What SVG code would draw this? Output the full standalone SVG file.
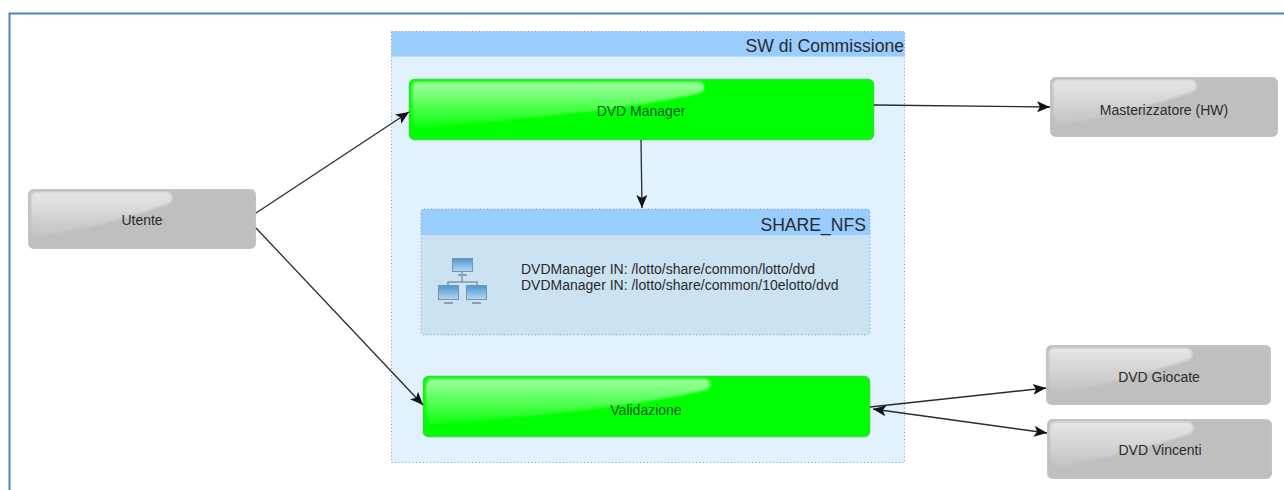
<svg xmlns="http://www.w3.org/2000/svg" width="1284" height="490" viewBox="0 0 1284 490">
<style>
text{font-family:"Liberation Sans",Arial,sans-serif;fill:#2a2a2a}
.lbl{font-size:14px;text-anchor:middle}
.ongreen{fill:#0f5a1f}
.path{font-size:14px}
.conn{fill:none;stroke:#2a2a2a;stroke-width:1.3;marker-end:url(#arr)}
.grey{fill:#bfbfbf;stroke:#c4c4c4;stroke-width:1}
.green{fill:#00ff00;stroke:#2fe02f;stroke-width:1.5}
.gl{fill:url(#gloss);filter:url(#soft)}
.dash{fill:none;stroke:#8a98a5;stroke-width:1;stroke-dasharray:1 2.5}
.hd{fill:#99ccff}
.ttl{font-size:17.600px;text-anchor:end}
.mon{fill:url(#screen);stroke:#7a94ad;stroke-width:1}
.foot{stroke:#8aa0b2;stroke-width:2}
</style>
<defs>
<marker id="arr" markerUnits="userSpaceOnUse" markerWidth="14" markerHeight="12" refX="13" refY="6" orient="auto"><path d="M0 0.500L13 6L0 11.500L3 6Z" fill="#111"/></marker>
<marker id="arrs" markerUnits="userSpaceOnUse" markerWidth="14" markerHeight="12" refX="0" refY="6" orient="auto"><path d="M13 0.500L0 6L13 11.500L10 6Z" fill="#111"/></marker>
<linearGradient id="gloss" x1="0" y1="0" x2="0" y2="1"><stop offset="0" stop-color="#fff" stop-opacity=".62"/><stop offset="1" stop-color="#fff" stop-opacity=".06"/></linearGradient>
<linearGradient id="screen" x1="0" y1="0" x2="0" y2="1"><stop offset="0" stop-color="#4f94d4"/><stop offset="1" stop-color="#b5d8f0"/></linearGradient>
<filter id="soft" x="-5%" y="-10%" width="110%" height="120%"><feGaussianBlur stdDeviation=".8"/></filter>
</defs>
<rect width="1284" height="490" fill="#fff"/>
<path id="frame" d="M9.500 490V13.500H1284" fill="none" stroke="#4f81c7" stroke-width="2"/>
<g id="sw">
<rect x="391.500" y="31.500" width="513" height="431" fill="#e1f1fd"/>
<rect x="391.500" y="31.500" width="513" height="25" class="hd"/>
<rect x="391.500" y="31.500" width="513" height="431" class="dash"/>
<text x="904" y="52" class="ttl">SW di Commissione</text>
</g>
<g id="share">
<rect x="421" y="209" width="449" height="126" rx="3" fill="#cbe2f3"/>
<path d="M421 235V212a3 3 0 0 1 3-3H867a3 3 0 0 1 3 3V235Z" class="hd"/>
<rect x="421" y="209" width="449" height="126" rx="3" class="dash"/>
<text x="866" y="231" class="ttl">SHARE_NFS</text>
<g id="net-icon">
<path d="M462 272V282M448 286V282H477V286" fill="none" stroke="#7d97ac" stroke-width="1.500"/>
<rect x="452.500" y="258.500" width="20" height="13" class="mon"/><path d="M458 275H467" class="foot"/>
<rect x="438.500" y="285.500" width="20" height="14" class="mon"/><path d="M444 303H453" class="foot"/>
<rect x="466.500" y="285.500" width="20" height="14" class="mon"/><path d="M472 303H481" class="foot"/>
</g>
<text x="521" y="274" class="path">DVDManager IN: /lotto/share/common/lotto/dvd</text>
<text x="521" y="290" class="path">DVDManager IN: /lotto/share/common/10elotto/dvd</text>
</g>
<g id="dvd-manager">
<rect x="409.500" y="79.500" width="464" height="60" rx="5" class="green"/>
<path d="M412 87a5 5 0 0 1 5-5H698c8 0 8 9 2 11C630 110 500 121 422 127Q412 128 412 119Z" class="gl"/>
<text x="641" y="116" class="lbl ongreen">DVD Manager</text>
</g>
<g id="validazione">
<rect x="423.500" y="376.500" width="446" height="60" rx="5" class="green"/>
<path d="M426 384a5 5 0 0 1 5-5H704c8 0 8 9 2 11C634 407 514 418 436 424Q426 425 426 416Z" class="gl"/>
<text x="646" y="415" class="lbl ongreen">Validazione</text>
</g>
<g id="utente">
<rect x="28.500" y="189.500" width="227" height="59" rx="5" class="grey"/>
<path d="M31 197a5 5 0 0 1 5-5H166c8 0 8 10 2 12C125 219 80 230 40 236Q31 236 31 227Z" class="gl"/>
<text x="142" y="225" class="lbl">Utente</text>
</g>
<g id="masterizzatore">
<rect x="1050.500" y="77.500" width="227" height="59" rx="5" class="grey"/>
<path d="M1053 85a5 5 0 0 1 5-5H1190c8 0 8 10 2 12C1147 107 1102 118 1062 124Q1053 124 1053 115Z" class="gl"/>
<text x="1164" y="115" class="lbl">Masterizzatore (HW)</text>
</g>
<g id="dvd-giocate">
<rect x="1046.500" y="345.500" width="224" height="59" rx="5" class="grey"/>
<path d="M1049 353a5 5 0 0 1 5-5H1186c8 0 8 10 2 12C1143 375 1098 386 1058 392Q1049 392 1049 383Z" class="gl"/>
<text x="1159" y="382" class="lbl">DVD Giocate</text>
</g>
<g id="dvd-vincenti">
<rect x="1047.500" y="419.500" width="224" height="59" rx="5" class="grey"/>
<path d="M1050 427a5 5 0 0 1 5-5H1187c8 0 8 10 2 12C1144 449 1099 460 1059 466Q1050 466 1050 457Z" class="gl"/>
<text x="1160" y="455" class="lbl">DVD Vincenti</text>
</g>
<g id="connectors">
<path d="M256 213L409 112" class="conn"/>
<path d="M256 228L423 405" class="conn"/>
<path d="M874 105L1050 107" class="conn"/>
<path d="M641 140L642 208" class="conn"/>
<path d="M870 407L1046 388" class="conn"/>
<path d="M873 409L1047 433" class="conn" marker-start="url(#arrs)"/>
</g>
</svg>
